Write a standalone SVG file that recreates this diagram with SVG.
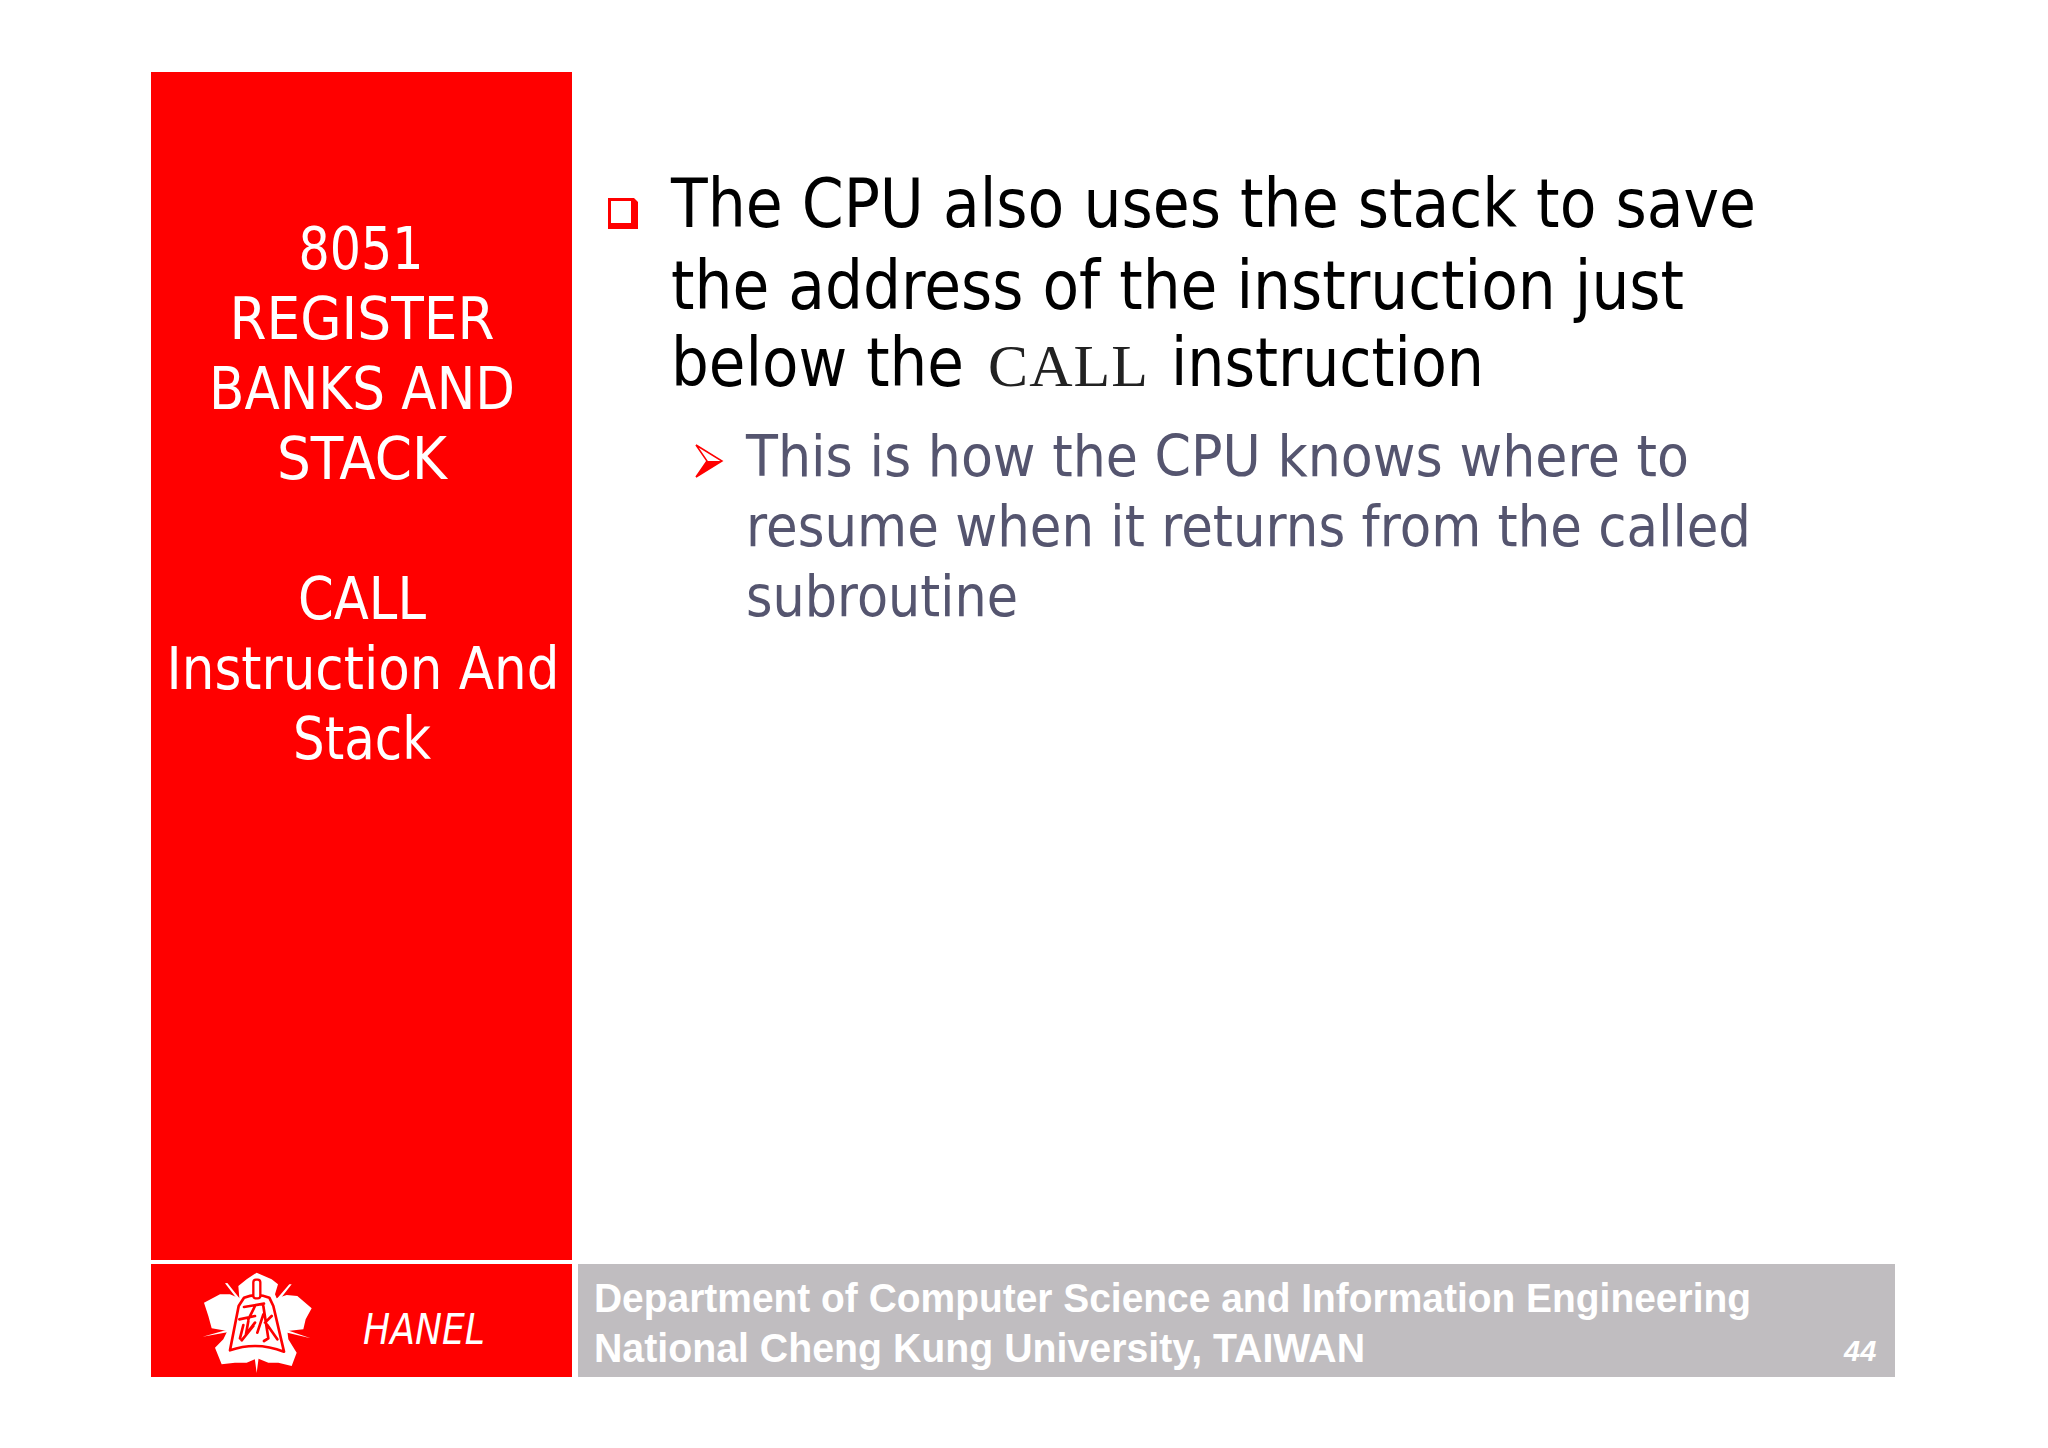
<svg xmlns="http://www.w3.org/2000/svg" width="2048" height="1448" viewBox="0 0 2048 1448">
<defs>
<linearGradient id="arrowFill" x1="0" y1="0" x2="0" y2="1"><stop offset="0.5" stop-color="#fff"/><stop offset="0.5" stop-color="#f00"/></linearGradient>
</defs>
<style>
.s{font-family:"DejaVu Sans","Noto Sans",sans-serif}
.side{font-size:58px;fill:#fff;text-anchor:middle}
.main{font-size:67px;fill:#000}
.sub{font-size:57px;fill:#55556f}
.foot{font-family:"Liberation Sans",Arial,sans-serif;font-weight:bold;font-size:40px;fill:#fff}
.ray{fill:#fff}
.r{fill:none;stroke:#f00;stroke-width:8;stroke-linecap:round;stroke-linejoin:round}
</style>
<rect width="2048" height="1448" fill="#fff"/>
<g id="sidebar">
<rect x="151" y="72" width="421" height="1188" fill="#f00"/>
<text class="s side" x="361" y="269" textLength="125" lengthAdjust="spacingAndGlyphs">8051</text>
<text class="s side" x="362" y="339" textLength="265" lengthAdjust="spacingAndGlyphs">REGISTER</text>
<text class="s side" x="362" y="409" textLength="306" lengthAdjust="spacingAndGlyphs">BANKS AND</text>
<text class="s side" x="362" y="479" textLength="170" lengthAdjust="spacingAndGlyphs">STACK</text>
<text class="s side" x="362" y="619" textLength="128" lengthAdjust="spacingAndGlyphs">CALL</text>
<text class="s side" x="363" y="689" textLength="393" lengthAdjust="spacingAndGlyphs">Instruction And</text>
<text class="s side" x="362" y="759" textLength="138" lengthAdjust="spacingAndGlyphs">Stack</text>
</g>
<g id="logo-bar">
<rect x="151" y="1264" width="421" height="113" fill="#f00"/>
<g transform="translate(140 1251) scale(.33333)">
<path fill="#fff" d="M350 65L395 85L414 100L405 130L410 142L440 132L472 135L515 172L497 205L490 235L442 240L445 265L470 305L455 345L415 335L385 335L352 322L320 335L285 335L245 340L225 290L250 265L262 240L215 232L205 195L192 155L240 130L270 130L298 142L295 105L320 85Z"/>
<path class="ray" d="M255 97L262 96L302 146L296 150ZM455 100L448 100L408 146L414 152ZM188 257L262 236L266 243ZM512 262L438 236L436 244ZM350 366L341 298L359 298Z"/>
<path d="M312 140Q350 125 388 140L400 165L432 302Q350 270 270 298L296 165Z" fill="#fff" stroke="#f00" stroke-width="8" stroke-linejoin="round"/>
<rect x="340" y="86" width="21" height="56" rx="8" fill="#fff" stroke="#f00" stroke-width="7"/>
<path class="r" d="M312 168L372 158M345 165L325 205M298 205L345 195M325 210L318 250M310 222L300 262M318 250L345 215M340 225L305 268M370 165L385 262L372 270M370 190L352 245M395 195L375 215M382 222L412 265"/>
</g>
<text x="363" y="1344" class="s" font-size="43" font-style="italic" fill="#fff" textLength="122" lengthAdjust="spacingAndGlyphs">HANEL</text>
</g>
<g id="footer">
<rect x="578" y="1264" width="1317" height="113" fill="#c0bdc0"/>
<text class="foot" x="594" y="1312" textLength="1157" lengthAdjust="spacingAndGlyphs">Department of Computer Science and Information Engineering</text>
<text class="foot" x="594" y="1362" textLength="771" lengthAdjust="spacingAndGlyphs">National Cheng Kung University, TAIWAN</text>
<text x="1844" y="1361" font-family="Liberation Sans,Arial,sans-serif" font-weight="bold" font-style="italic" font-size="29" fill="#fff">44</text>
</g>
<g id="content">
<path fill="#f00" fill-rule="evenodd" d="M608 198H634L638 202V229H608ZM611 201H631V223H611Z"/>
<text class="s main" x="671" y="227" textLength="1085" lengthAdjust="spacingAndGlyphs">The CPU also uses the stack to save</text>
<text class="s main" x="671" y="309" textLength="1013" lengthAdjust="spacingAndGlyphs">the address of the instruction just</text>
<text class="s main" x="671" y="386" textLength="293" lengthAdjust="spacingAndGlyphs">below the</text>
<text x="988" y="386" font-family="Liberation Serif,serif" font-size="60" fill="#222" textLength="160" lengthAdjust="spacing">CALL</text>
<text class="s main" x="1171" y="386" textLength="313" lengthAdjust="spacingAndGlyphs">instruction</text>
<path fill="url(#arrowFill)" stroke="#f00" stroke-width="1.5" stroke-linejoin="miter" d="M696 445L722 461L696 477L707 461Z"/>
<text class="s sub" x="746" y="476" textLength="943" lengthAdjust="spacingAndGlyphs">This is how the CPU knows where to</text>
<text class="s sub" x="746" y="546" textLength="1005" lengthAdjust="spacingAndGlyphs">resume when it returns from the called</text>
<text class="s sub" x="746" y="616" textLength="272" lengthAdjust="spacingAndGlyphs">subroutine</text>
</g>
</svg>
